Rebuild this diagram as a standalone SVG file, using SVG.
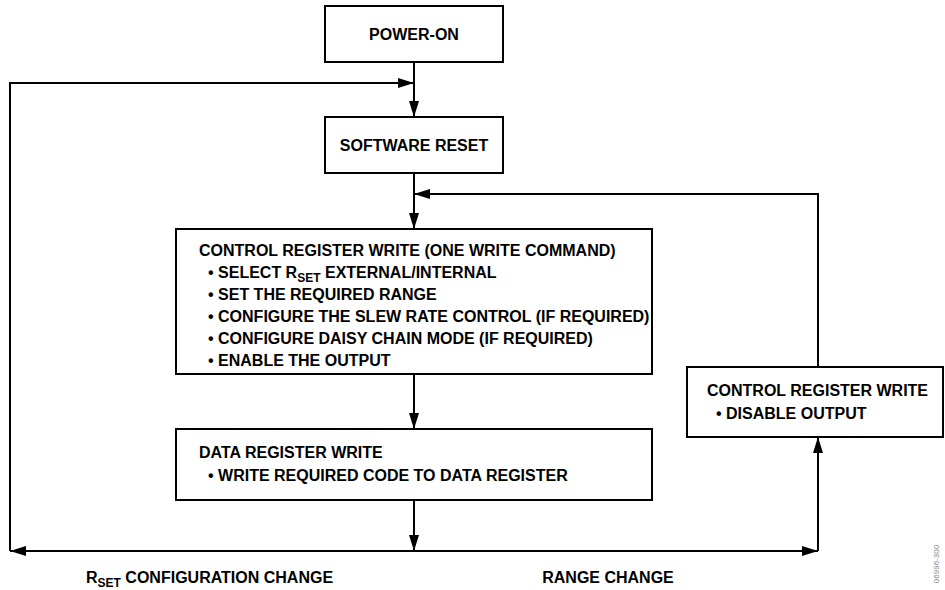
<svg xmlns="http://www.w3.org/2000/svg" width="945" height="590" viewBox="0 0 945 590">
<style>
.box{fill:#fff;stroke:#000;stroke-width:2}
.t{font-family:"Liberation Sans",Arial,sans-serif;font-weight:bold;font-size:16px;fill:#000}
.c{stroke:#000;stroke-width:2;fill:none}
.sub{font-size:12px}
</style>
<defs>
<marker id="ah" markerUnits="userSpaceOnUse" markerWidth="18" markerHeight="12" refX="16" refY="5" orient="auto">
<path d="M0,0 L16,5 L0,10 z" fill="#000"/>
</marker>
</defs>
<g id="connectors">
<path class="c" d="M414,62 V117" marker-end="url(#ah)"/>
<path class="c" d="M414,173 V229" marker-end="url(#ah)"/>
<path class="c" d="M414,374 V429" marker-end="url(#ah)"/>
<path class="c" d="M414,500 V551" marker-end="url(#ah)"/>
<path class="c" d="M414,551 H10" marker-end="url(#ah)"/>
<path class="c" d="M10,551 V83 H414" marker-end="url(#ah)"/>
<path class="c" d="M414,551 H818" marker-end="url(#ah)"/>
<path class="c" d="M818,551 V437" marker-end="url(#ah)"/>
<path class="c" d="M818,367 V194 H414" marker-end="url(#ah)"/>
</g>
<g id="power-on">
<rect class="box" x="325" y="6" width="178" height="56"/>
<text class="t" x="414" y="40" text-anchor="middle">POWER-ON</text>
</g>
<g id="software-reset">
<rect class="box" x="325" y="117" width="178" height="56"/>
<text class="t" x="414" y="151" text-anchor="middle">SOFTWARE RESET</text>
</g>
<g id="control-write">
<rect class="box" x="176" y="229" width="476" height="145"/>
<text class="t" x="199" y="256">CONTROL REGISTER WRITE (ONE WRITE COMMAND)</text>
<text class="t" x="208" y="278">• SELECT R<tspan class="sub" dy="4">SET</tspan><tspan dy="-4"> EXTERNAL/INTERNAL</tspan></text>
<text class="t" x="208" y="300">• SET THE REQUIRED RANGE</text>
<text class="t" x="208" y="322">• CONFIGURE THE SLEW RATE CONTROL (IF REQUIRED)</text>
<text class="t" x="208" y="344">• CONFIGURE DAISY CHAIN MODE (IF REQUIRED)</text>
<text class="t" x="208" y="366">• ENABLE THE OUTPUT</text>
</g>
<g id="data-write">
<rect class="box" x="176" y="429" width="476" height="71"/>
<text class="t" x="199" y="458">DATA REGISTER WRITE</text>
<text class="t" x="208" y="481">• WRITE REQUIRED CODE TO DATA REGISTER</text>
</g>
<g id="control-disable">
<rect class="box" x="687" y="367" width="256" height="70"/>
<text class="t" x="707" y="396">CONTROL REGISTER WRITE</text>
<text class="t" x="716" y="419">• DISABLE OUTPUT</text>
</g>
<g id="labels">
<text class="t" x="86" y="583">R<tspan class="sub" dy="4">SET</tspan><tspan dy="-4"> CONFIGURATION CHANGE</tspan></text>
<text class="t" x="608" y="583" text-anchor="middle">RANGE CHANGE</text>
<text x="939" y="564" transform="rotate(-90 939 564)" text-anchor="middle" font-family="Liberation Sans,Arial,sans-serif" font-size="8" fill="#888">06996-300</text>
</g>
</svg>
